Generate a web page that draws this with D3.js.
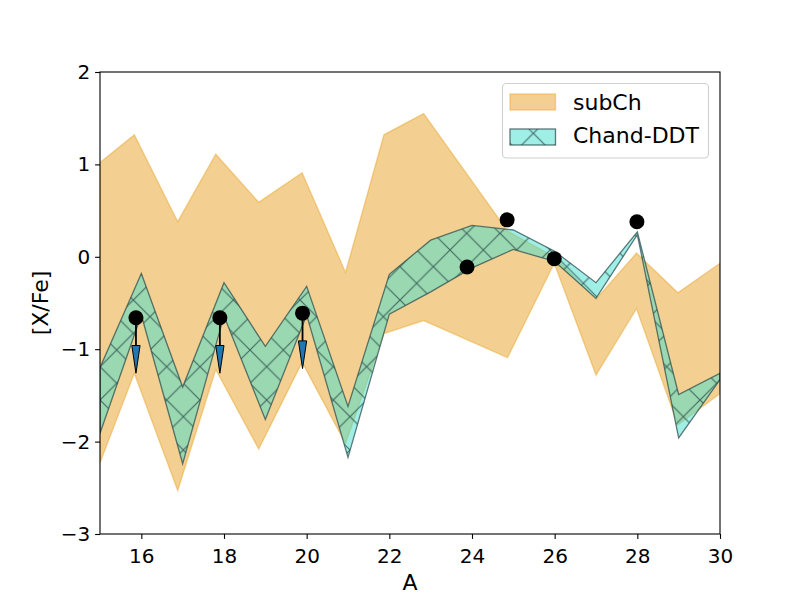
<!DOCTYPE html>
<html>
<head>
<meta charset="utf-8">
<script src="https://cdn.jsdelivr.net/npm/d3@7"></script>
<style>
  body { margin: 0; background: #fff; }
  text { font-family: "DejaVu Sans", sans-serif; fill: #000; }
</style>
</head>
<body>
<div id="chart"></div>
<script>
// subCh band (orange)
var subA  = [15.0, 15.83, 16.88, 17.8, 18.84, 19.89, 20.94, 21.87, 22.83, 24.86, 25.99, 27.0, 27.98, 28.98, 30.0];
var subHi = [1.02, 1.32, 0.38, 1.11, 0.59, 0.91, -0.17, 1.32, 1.55, 0.28, 0.0, -0.46, 0.04, -0.39, -0.07];
var subLo = [-2.23, -1.26, -2.53, -1.22, -2.08, -1.14, -2.02, -0.83, -0.69, -1.09, -0.07, -1.28, -0.56, -1.82, -1.48];

// Chand-DDT band (hatched)
var chA  = [15, 16, 17, 18, 19, 20, 21, 22, 23, 24, 25, 26, 27, 28, 29, 30];
var chHi = [-1.2, -0.18, -1.41, -0.28, -0.97, -0.32, -1.62, -0.19, 0.18, 0.34, 0.29, 0.06, -0.28, 0.27, -1.49, -1.26];
var chLo = [-1.91, -0.63, -2.24, -0.64, -1.76, -0.63, -2.17, -0.62, -0.38, -0.12, 0.08, -0.05, -0.45, 0.24, -1.96, -1.33];

// observed points, upper limits get an arrow
var obsA   = [15.87, 17.9, 19.9, 23.88, 24.85, 25.99, 27.99];
var obsX   = [-0.66, -0.66, -0.61, -0.11, 0.40, -0.02, 0.38];
var obsLim = [true, true, true, false, false, false, false];

var xTicks = [16, 18, 20, 22, 24, 26, 28, 30];
var yTicks = [-3, -2, -1, 0, 1, 2];
var legendNames = ["subCh", "Chand-DDT"];

var w = 800, h = 600;
var margin = {left: 100, right: 80, top: 72, bottom: 66};
var pw = w - margin.left - margin.right;
var ph = h - margin.top - margin.bottom;

var x = d3.scaleLinear().domain([15, 30]).range([0, pw]);
var y = d3.scaleLinear().domain([-3, 2]).range([ph, 0]);

var svg = d3.select("#chart").append("svg")
	.attr("width", w).attr("height", h);

var defs = svg.append("defs");
defs.append("clipPath").attr("id", "plotClip")
	.append("rect").attr("width", pw).attr("height", ph);

// 'x' hatch, anchored to the figure corner (one copy for the chart group, one for the legend)
var hs = 100 / 3;
function addHatch(id, ox, oy) {
	var p = defs.append("pattern")
		.attr("id", id)
		.attr("patternUnits", "userSpaceOnUse")
		.attr("x", ox).attr("y", oy)
		.attr("width", hs).attr("height", hs);
	p.append("path")
		.attr("d", "M-2,2L2,-2M0," + hs + "L" + hs + ",0M" + (hs - 2) + "," + (hs + 2) + "L" + (hs + 2) + "," + (hs - 2) +
			"M-2," + (hs - 2) + "L2," + (hs + 2) + "M0,0L" + hs + "," + hs + "M" + (hs - 2) + ",-2L" + (hs + 2) + ",2")
		.attr("stroke", "#2f4f4f")
		.attr("stroke-opacity", 0.8)
		.attr("stroke-width", 1.2)
		.attr("fill", "none");
}
addHatch("hatchPlot", -margin.left, -margin.top);
addHatch("hatchLegend", 0, 0);

var chart = svg.append("g")
	.attr("transform", "translate(" + margin.left + "," + margin.top + ")");

var plot = chart.append("g").attr("clip-path", "url(#plotClip)");

var subData = subA.map(function(a, i) { return {a: a, hi: subHi[i], lo: subLo[i]}; });
var chData = chA.map(function(a, i) { return {a: a, hi: chHi[i], lo: chLo[i]}; });

var band = d3.area()
	.x(function(d) { return x(d.a); })
	.y0(function(d) { return y(d.lo); })
	.y1(function(d) { return y(d.hi); });

var orangeCol = "#e7a123";
var turq = "#40e0d0";

plot.append("path")
	.datum(subData)
	.attr("d", band)
	.attr("fill", orangeCol)
	.attr("fill-opacity", 0.5)
	.attr("stroke", orangeCol)
	.attr("stroke-opacity", 0.45)
	.attr("stroke-width", 1.4);

plot.append("path")
	.datum(chData)
	.attr("d", band)
	.attr("fill", turq)
	.attr("fill-opacity", 0.5);

plot.append("path")
	.datum(chData)
	.attr("d", band)
	.attr("fill", "url(#hatchPlot)")
	.attr("stroke", "#2f4f4f")
	.attr("stroke-opacity", 0.75)
	.attr("stroke-width", 1.3);

// upper limit arrows
var arrowLen = 0.6, headLen = 0.3, headW = 0.2;
obsA.forEach(function(a, i) {
	if (!obsLim[i]) return;
	var v = obsX[i];
	plot.append("line")
		.attr("x1", x(a)).attr("x2", x(a))
		.attr("y1", y(v)).attr("y2", y(v - arrowLen + headLen))
		.attr("stroke", "#000").attr("stroke-width", 1.8);
	plot.append("path")
		.attr("d", "M" + x(a - headW / 2) + "," + y(v - arrowLen + headLen) +
			"L" + x(a + headW / 2) + "," + y(v - arrowLen + headLen) +
			"L" + x(a) + "," + y(v - arrowLen) + "Z")
		.attr("fill", "#1f77b4")
		.attr("stroke", "#000").attr("stroke-width", 1);
});

plot.selectAll(".obs")
	.data(obsA)
	.enter()
	.append("circle")
	.attr("class", "obs")
	.attr("cx", function(d) { return x(d); })
	.attr("cy", function(d, i) { return y(obsX[i]); })
	.attr("r", 7.5)
	.attr("fill", "#000");

// axes
var xAxis = d3.axisBottom(x).tickValues(xTicks).tickSize(4.9).tickPadding(4.9)
	.tickFormat(d3.format("d"));
var yAxis = d3.axisLeft(y).tickValues(yTicks).tickSize(4.9).tickPadding(4.9)
	.tickFormat(function(d) { return d < 0 ? "\u2212" + Math.abs(d) : d; });

var gx = chart.append("g").attr("transform", "translate(0," + ph + ")").call(xAxis);
var gy = chart.append("g").call(yAxis);
[gx, gy].forEach(function(g) {
	g.select(".domain").remove();
	g.selectAll("line").attr("stroke", "#000").attr("stroke-width", 1.1);
	g.selectAll("text").attr("font-size", "20px").attr("font-family", "DejaVu Sans").attr("fill", "#000");
});
gx.selectAll("text").attr("dy", "0.95em");

chart.append("rect")
	.attr("width", pw).attr("height", ph)
	.attr("fill", "none").attr("stroke", "#000").attr("stroke-width", 1.1);

chart.append("text")
	.attr("x", pw / 2).attr("y", ph + 56)
	.attr("text-anchor", "middle")
	.attr("font-size", "22px")
	.text("A");

svg.append("text")
	.attr("transform", "translate(48," + (margin.top + ph / 2) + ") rotate(-90)")
	.attr("text-anchor", "middle")
	.attr("font-size", "22px")
	.text("[X/Fe]");

// legend
var legend = svg.append("g").attr("class", "legend");
legend.append("rect")
	.attr("x", 502.5).attr("y", 83.5).attr("width", 206).attr("height", 74.5)
	.attr("rx", 4)
	.attr("fill", "#fff").attr("fill-opacity", 0.8)
	.attr("stroke", "#d0d0d0").attr("stroke-width", 1.1);

legend.append("rect")
	.attr("x", 510).attr("y", 94).attr("width", 45.5).attr("height", 16)
	.attr("fill", orangeCol).attr("fill-opacity", 0.5)
	.attr("stroke", orangeCol).attr("stroke-opacity", 0.45).attr("stroke-width", 1.4);

legend.append("rect")
	.attr("x", 510).attr("y", 129).attr("width", 45.5).attr("height", 16)
	.attr("fill", turq).attr("fill-opacity", 0.5);
legend.append("rect")
	.attr("x", 510).attr("y", 129).attr("width", 45.5).attr("height", 16)
	.attr("fill", "url(#hatchLegend)")
	.attr("stroke", "#2f4f4f").attr("stroke-opacity", 0.75).attr("stroke-width", 1.3);

legend.selectAll(".legtext")
	.data(legendNames)
	.enter()
	.append("text")
	.attr("class", "legtext")
	.attr("x", 573)
	.attr("y", function(d, i) { return 110 + i * 33; })
	.attr("font-size", "22px")
	.text(function(d) { return d; });
</script>
</body>
</html>
